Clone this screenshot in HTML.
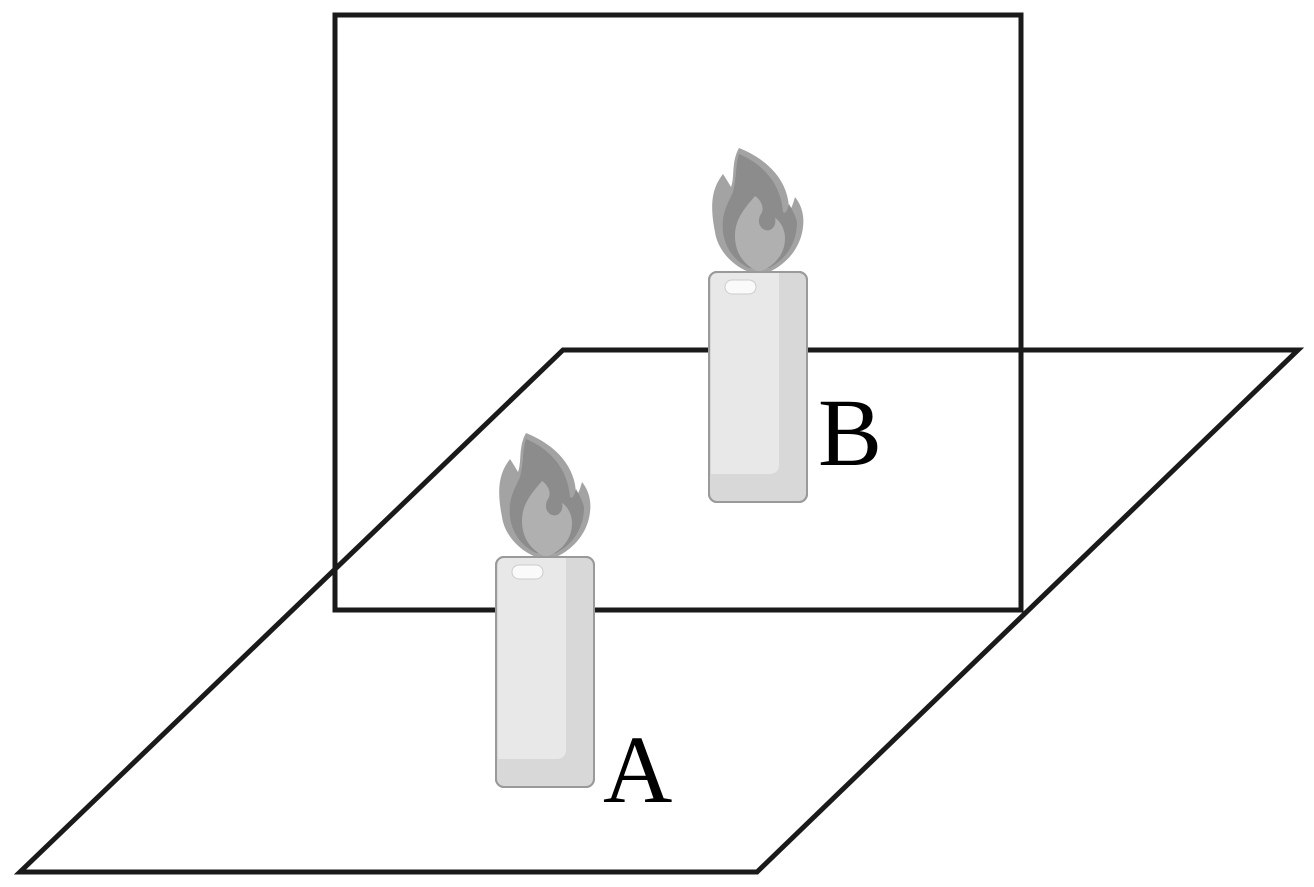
<!DOCTYPE html>
<html><head><style>body{margin:0;background:#fff}svg{display:block}</style></head><body>
<svg width="1314" height="887" viewBox="0 0 1314 887" xmlns="http://www.w3.org/2000/svg">
<defs>
<g id="c">
<path d="M30,-124 C22,-110 26,-95 22,-85 C18,-92 14,-98 14,-98 C4,-85 0,-70 6,-40 C8,-25 20,-8 40,0 L60,0 C78,-8 92,-25 94,-45 C96,-60 90,-70 86,-75 C84,-68 82,-62 80,-62 C80,-90 60,-112 30,-124Z" fill="#a3a3a3"/>
<path d="M30,-118 C26,-105 28,-95 24,-80 C20,-70 12,-60 14,-40 C16,-25 24,-12 40,-4 L60,-4 C76,-12 88,-28 88,-50 C86,-58 82,-64 80,-68 C78,-60 76,-58 74,-60 C72,-88 54,-108 30,-118Z" fill="#8c8c8c"/>
<path d="M46,-76 C34,-62 26,-52 26,-36 C26,-18 36,-6 50,0 C66,-6 76,-18 76,-34 C76,-44 70,-52 66,-54 C68,-46 62,-40 56,-42 C50,-44 48,-52 52,-58 C56,-64 52,-72 46,-76Z" fill="#b0b0b0"/>
<rect x="0" y="0" width="98" height="230" rx="8" fill="#d8d8d8" stroke="#9a9a9a" stroke-width="2"/>
<path d="M2,8 Q2,1 8,1 L70,1 L70,192 Q70,202 60,202 L2,202 Z" fill="#e8e8e8"/>
<rect x="16" y="8" width="31" height="14" rx="7" fill="#fafafa" stroke="#ccc" stroke-width="1"/>
<rect x="0" y="0" width="98" height="230" rx="8" fill="none" stroke="#9a9a9a" stroke-width="2"/>
</g>
</defs>
<polygon points="563,350 1298,350 757,872 20,872" fill="none" stroke="#1a1a1a" stroke-width="5"/>
<rect x="335" y="15" width="686" height="595" fill="none" stroke="#1a1a1a" stroke-width="5"/>
<use href="#c" x="496" y="557"/>
<use href="#c" x="709" y="272"/>
<text x="603" y="802" font-family="Liberation Serif, serif" font-size="96" fill="#000">A</text>
<text x="818" y="465" font-family="Liberation Serif, serif" font-size="96" fill="#000">B</text>
</svg>
</body></html>
